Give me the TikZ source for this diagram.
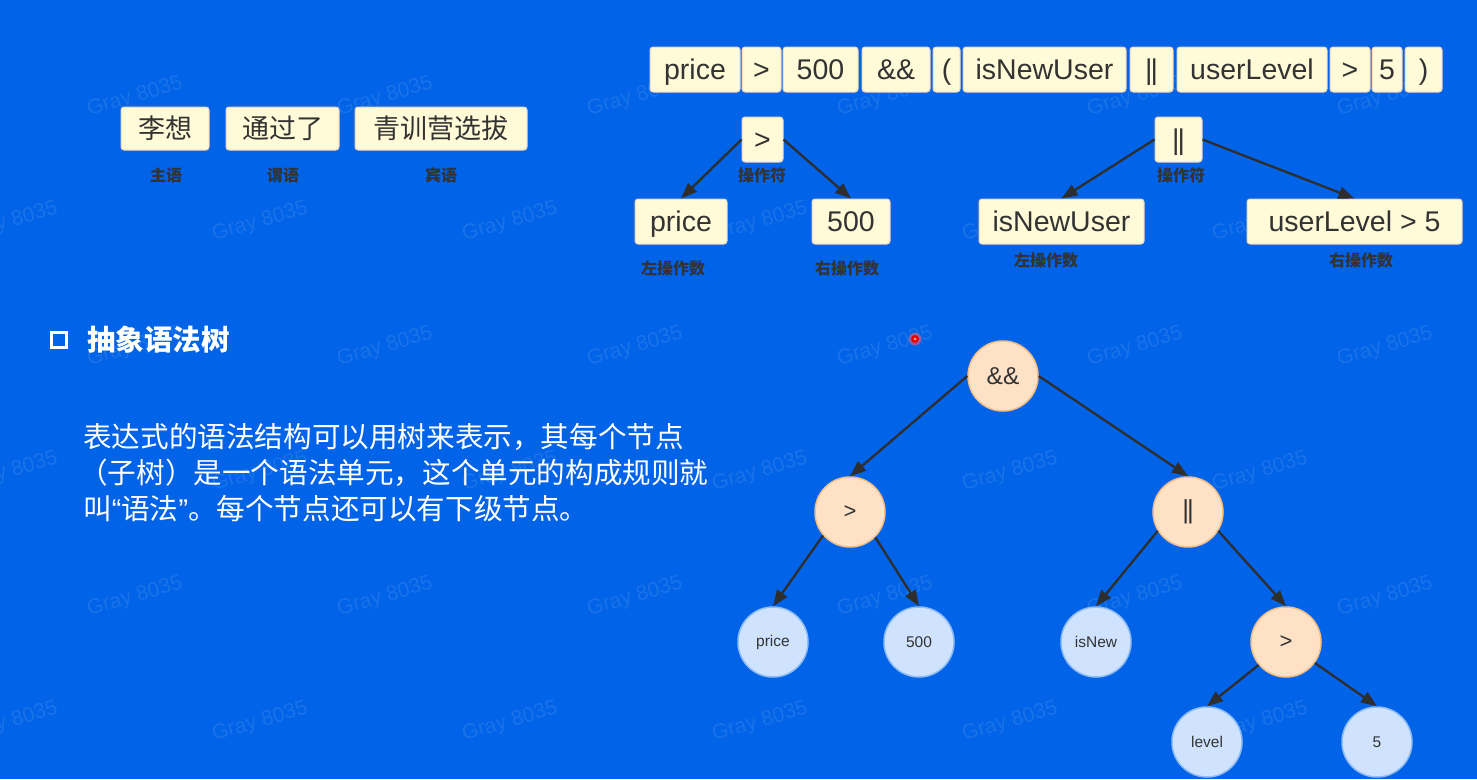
\documentclass[tikz,border=0pt]{standalone}
\usepackage{fontspec}
\setmainfont{Liberation Sans}
\newfontfamily\cjk{Noto Sans CJK SC}
\usetikzlibrary{arrows.meta}
\definecolor{bg}{HTML}{0163E7}
\definecolor{tokf}{HTML}{FFFBD8}
\definecolor{tokb}{HTML}{F3D2BC}
\definecolor{txt}{HTML}{333333}
\definecolor{arr}{HTML}{2E2E2E}
\definecolor{orf}{HTML}{FFE2C6}
\definecolor{orb}{HTML}{F5BE86}
\definecolor{blf}{HTML}{CFE3FF}
\definecolor{blb}{HTML}{8FBDF3}
\begin{document}
\begin{tikzpicture}[x=1pt,y=-1pt,
  tok/.style={draw=tokb, fill=tokf, rounded corners=3pt, line width=1pt, minimum height=45pt, inner sep=0pt, text height=20.5pt, text depth=0pt, text=txt, font=\fontsize{28.5}{30}\selectfont},
  cbox/.style={draw=tokb, fill=tokf, rounded corners=3pt, line width=1pt, minimum height=43pt, inner sep=0pt, text=txt, font=\cjk\fontsize{27}{30}\selectfont},
  lab/.style={text=txt, inner sep=0pt, font=\cjk\bfseries\fontsize{16}{16}\selectfont},
  conn/.style={draw=arr, line width=2.3pt, -{Triangle[length=16pt,width=12pt]}},
  opn/.style={circle, draw=orb, fill=orf, line width=1.5pt, minimum size=70pt, inner sep=0pt, text=txt},
  leaf/.style={circle, draw=blb, fill=blf, line width=1.5pt, minimum size=70pt, inner sep=0pt, text=txt, font=\fontsize{15.5}{16}\selectfont},
  wm/.style={text=white, opacity=0.1, rotate=16, font=\fontsize{21}{21}\selectfont},
  para/.style={anchor=west, text=white, inner sep=0pt, font=\cjk\fontsize{28.6}{30}\selectfont}
]
\useasboundingbox (0,0) rectangle (1477,779);
\fill[bg] (0,0) rectangle (1477,779);

% watermarks
\foreach \x in {135,385,635,885,1135,1385} \foreach \y in {97,347,597} \node[wm] at (\x,\y) {Gray 8035};
\foreach \x in {10,260,510,760,1010,1260} \foreach \y in {222,472,722} \node[wm] at (\x,\y) {Gray 8035};

% expression tokens
\node[tok, minimum width=90pt] (t1) at (695,69.5) {price};
\node[tok, minimum width=39pt] (t2) at (761.5,69.5) {>};
\node[tok, minimum width=75pt] (t3) at (820.5,69.5) {500};
\node[tok, minimum width=68pt] (t4) at (896,69.5) {\&\&};
\node[tok, minimum width=27pt] (t5) at (946.5,69.5) {(};
\node[tok, minimum width=163pt] (t6) at (1044.5,69.5) {isNewUser};
\node[tok, minimum width=43pt] (t7) at (1151.5,69.5) {|\kern-2pt|};
\node[tok, minimum width=150pt] (t8) at (1252,69.5) {userLevel};
\node[tok, minimum width=40pt] (t9) at (1350,69.5) {>};
\node[tok, minimum width=30pt] (t10) at (1387,69.5) {5};
\node[tok, minimum width=37pt] (t11) at (1423.5,69.5) {)};

% small trees
\node[tok, minimum width=41pt] (sg) at (762.5,139.5) {>};
\node[tok, minimum width=92pt] (sp) at (681,221.5) {price};
\node[tok, minimum width=78pt] (s5) at (851,221.5) {500};
\node[tok, minimum width=47pt] (so) at (1178.5,139.5) {|\kern-2pt|};
\node[tok, minimum width=165pt] (si) at (1061.5,221.5) {isNewUser};
\node[tok, minimum width=215pt] (su) at (1354.5,221.5) {userLevel > 5};
\draw[conn] (sg.west) -- (sp.north);
\draw[conn] (sg.east) -- (s5.north);
\draw[conn] (so.west) -- (si.north);
\draw[conn] (so.east) -- (su.north);
\node[lab] (l1) at (762,175) {操作符};
\node[lab] (l2) at (1181,175) {操作符};
\node[lab] (l3) at (673,268) {左操作数};
\node[lab] (l4) at (847,268) {右操作数};
\node[lab] (l5) at (1046,260) {左操作数};
\node[lab] (l6) at (1361,260) {右操作数};

% sentence
\node[cbox, minimum width=88pt] (c1) at (165,128.5) {李想};
\node[cbox, minimum width=113pt] (c2) at (282.5,128.5) {通过了};
\node[cbox, minimum width=172pt] (c3) at (441,128.5) {青训营选拔};
\node[lab] (c1l) at (166,175) {主语};
\node[lab] (c2l) at (283,175) {谓语};
\node[lab] (c3l) at (441,175) {宾语};

% section
\node[draw=white, line width=3pt, minimum size=15pt, inner sep=0pt] (bullet) at (59,340) {};
\node[anchor=west, text=white, inner sep=0pt, font=\cjk\bfseries\fontsize{28.5}{30}\selectfont] (title) at (87,340) {抽象语法树};
\node[para] (p1) at (83,437) {表达式的语法结构可以用树来表示，其每个节点};
\node[para] (p2) at (79,473) {（子树）是一个语法单元，这个单元的构成规则就};
\node[para] (p3) at (83,509) {叫{\normalfont“}语法{\normalfont”}。每个节点还可以有下级节点。};

% pointer dot
\fill[red!60!white, opacity=0.5] (915,339) circle (6.5);
\fill[red!90!black] (915,339) circle (4);
\fill[red!40!white] (915,339) circle (1.5);

% AST
\node[opn, font=\fontsize{24.5}{26}\selectfont] (and) at (1003,376) {\&\&};
\node[opn, font=\fontsize{22}{24}\selectfont] (gt1) at (850,512) {>};
\node[opn, font=\fontsize{26}{28}\selectfont] (or) at (1188,512) {|\kern-2pt|};
\node[leaf] (price) at (773,642) {price};
\node[leaf] (v500) at (919,642) {500};
\node[leaf] (isnew) at (1096,642) {isNew};
\node[opn, font=\fontsize{22}{24}\selectfont] (gt2) at (1286,642) {>};
\node[leaf] (level) at (1207,742) {level};
\node[leaf] (v5) at (1377,742) {5};
\draw[conn] (and.west) -- (gt1.north);
\draw[conn] (and.east) -- (or.north);
\draw[conn] (gt1.-139) -- (price.north);
\draw[conn] (gt1.-45) -- (v500.north);
\draw[conn] (or.-148) -- (isnew.north);
\draw[conn] (or.-32) -- (gt2.north);
\draw[conn] (gt2.-140) -- (level.north);
\draw[conn] (gt2.-36) -- (v5.north);
\end{tikzpicture}
\end{document}
